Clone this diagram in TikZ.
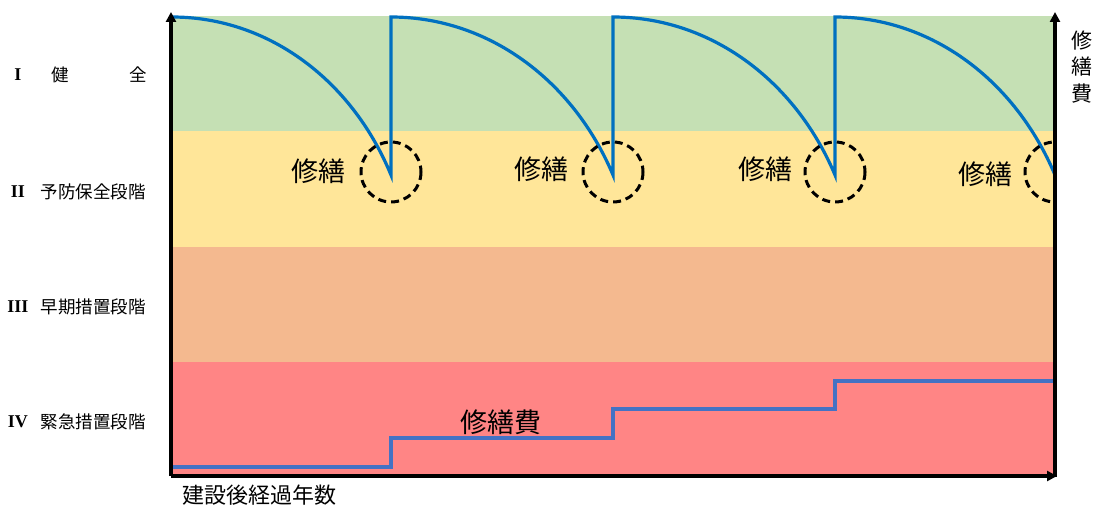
\documentclass[tikz,border=0pt]{standalone}
\usepackage{fontspec}
\setmainfont{Noto Sans CJK JP}
\newfontfamily\romfont{Liberation Serif}
\usetikzlibrary{arrows.meta}
\definecolor{bandA}{HTML}{C5E0B4}
\definecolor{bandB}{HTML}{FFE699}
\definecolor{bandC}{HTML}{F4B98F}
\definecolor{bandD}{HTML}{FF8585}
\definecolor{curveblue}{HTML}{0070C0}
\definecolor{stepblue}{HTML}{4472C4}
\tikzset{
  axisline/.style={line width=3.4pt,-{Triangle[length=10pt,width=10pt]}},
  deterior/.style={curveblue,line width=3.2pt},
  costline/.style={stepblue,line width=3.2pt},
  repaircircle/.style={line width=3pt,dash pattern=on 8pt off 5pt},
  stagelabel/.style={font=\fontsize{17.5}{20}\selectfont,inner sep=0pt},
  romlabel/.style={font=\romfont\bfseries\fontsize{18}{20}\selectfont,inner sep=0pt},
  repairlabel/.style={font=\fontsize{27}{30}\selectfont,inner sep=0pt}
}
\begin{document}
\begin{tikzpicture}[x=1pt,y=-1pt]
\useasboundingbox (0,0) rectangle (1094,505);
% bands
\fill[bandA] (172,16) rectangle (1055,131);
\fill[bandB] (172,131) rectangle (1055,247);
\fill[bandC] (172,247) rectangle (1055,362);
\fill[bandD] (172,362) rectangle (1055,476);
% deterioration curve
\draw[deterior] (172,17) .. controls (268,17) and (352,80) .. (391,175) -- (391,17)
  .. controls (488,17) and (573,80) .. (613,175) -- (613,17)
  .. controls (710,17) and (795,80) .. (835,175) -- (835,17)
  .. controls (931,17) and (1015,80) .. (1055,175);
% repair circles
\begin{scope}
\clip (0,0) rectangle (1055,505);
\foreach \cx in {391,613,835,1055}
  \draw[repaircircle] (\cx,172) circle[radius=30];
\end{scope}
% cost step line
\draw[costline] (172,467) -- (391,467) -- (391,438) -- (613,438) -- (613,409)
  -- (835,409) -- (835,381) -- (1055,381);
% axes
\coordinate (o) at (171,476);
\coordinate (ytop) at (171,12);
\coordinate (xend) at (1057,476);
\coordinate (rb) at (1055,477);
\coordinate (rtop) at (1055,12);
\draw[axisline] (o) -- (ytop);
\draw[axisline] (o) -- (xend);
\draw[axisline] (rb) -- (rtop);
% left stage labels
\node[romlabel] (r1) at (18,75) {I};
\node[stagelabel] (s1a) at (60,75) {健};
\node[stagelabel] (s1b) at (138,75) {全};
\node[romlabel] (r2) at (18,192) {II};
\node[stagelabel] (s2) at (93,192) {予防保全段階};
\node[romlabel] (r3) at (18,307) {III};
\node[stagelabel] (s3) at (93,307) {早期措置段階};
\node[romlabel] (r4) at (18,422) {IV};
\node[stagelabel] (s4) at (93,422) {緊急措置段階};
% repair labels
\node[repairlabel] (m1) at (318,171) {修繕};
\node[repairlabel] (m2) at (541,169) {修繕};
\node[repairlabel] (m3) at (765,169) {修繕};
\node[repairlabel] (m4) at (985,174) {修繕};
\node[repairlabel] (cost) at (501,422) {修繕費};
% axis labels
\node[font=\fontsize{21}{26.5}\selectfont,align=center,inner sep=0pt] (ylab) at (1082,67) {修\\繕\\費};
\node[font=\fontsize{22}{24}\selectfont,inner sep=0pt] (xlab) at (259,495) {建設後経過年数};
\end{tikzpicture}
\end{document}
